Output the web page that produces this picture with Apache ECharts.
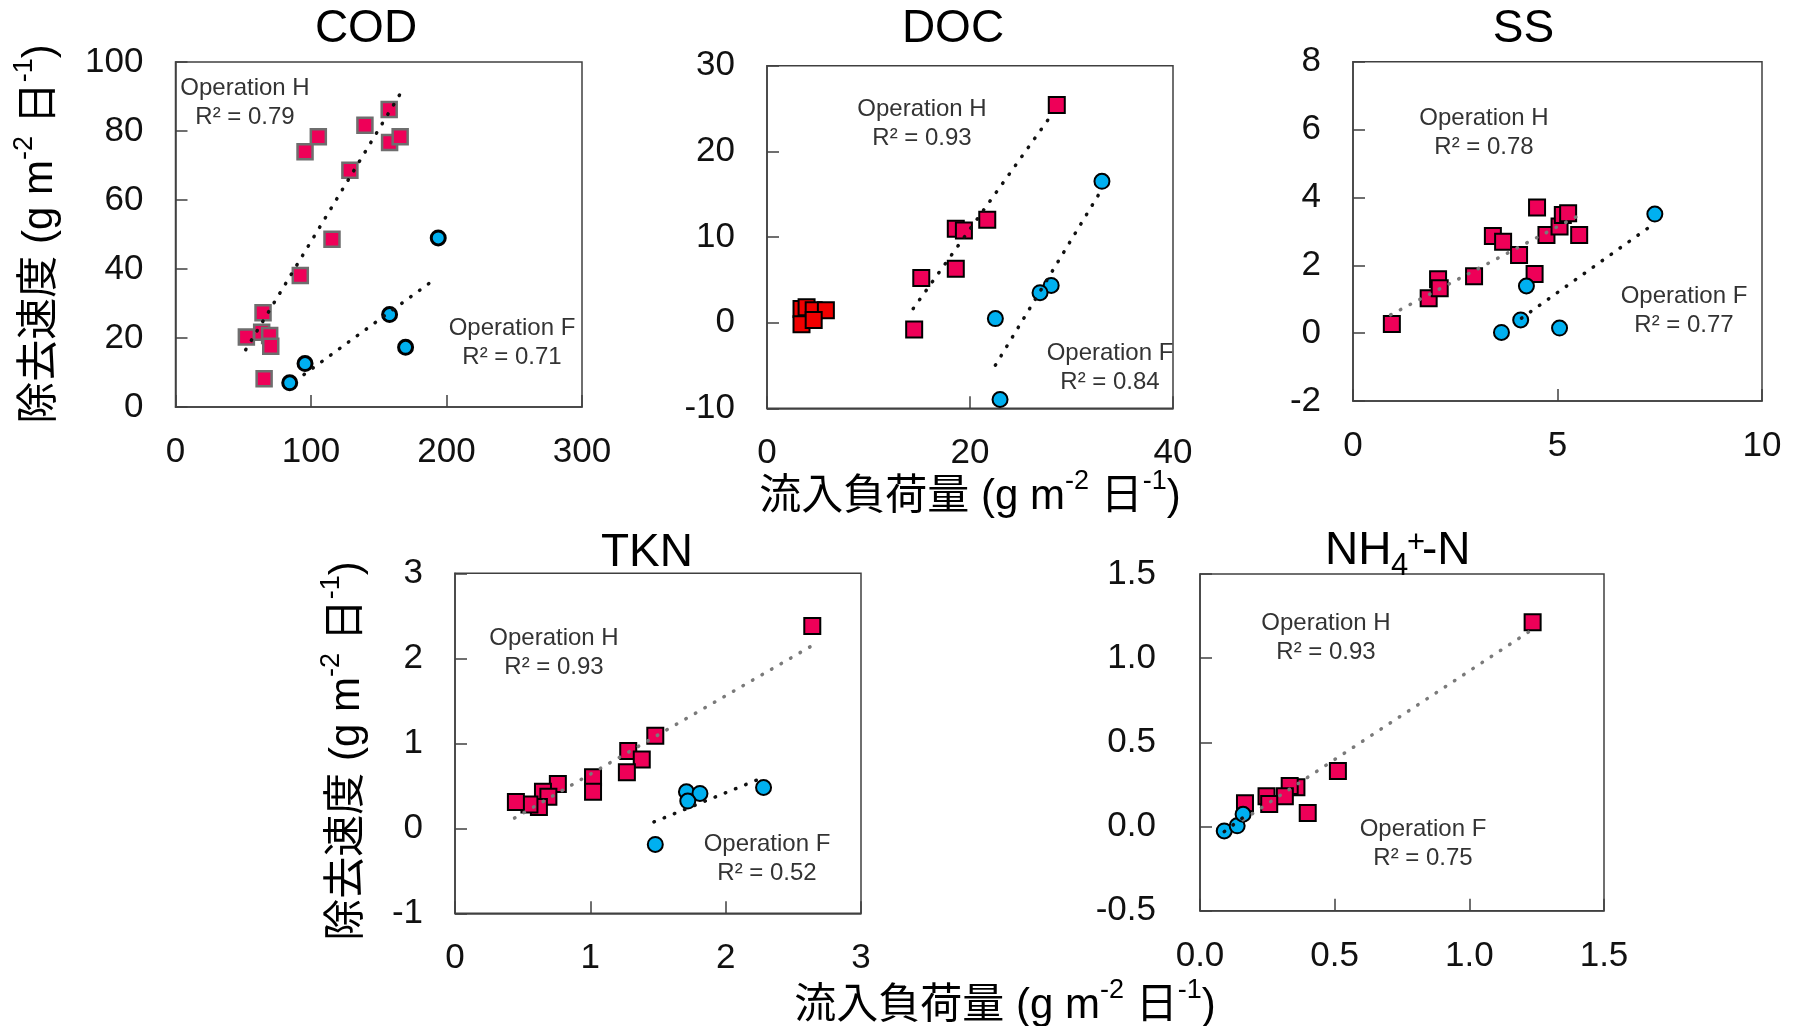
<!DOCTYPE html>
<html>
<head>
<meta charset="utf-8">
<script src="https://cdn.jsdelivr.net/npm/echarts@6/dist/echarts.min.js"></script>
<style>
html,body{margin:0;padding:0;background:#fff;}
#c{width:1796px;height:1026px;}
</style>
</head>
<body>
<div id="c"></div>
<script>
// ---------------- DATA ----------------
// COD
const codH_x = [157.7, 139.8, 105.4, 95.6, 158.0, 165.8, 128.7, 115.5, 92.1, 64.6, 63.6, 69.5, 52.3, 70.3, 65.4];
const codH_y = [86.2, 81.7, 78.3, 74.0, 76.7, 78.3, 68.6, 48.6, 38.1, 27.3, 21.7, 20.7, 20.3, 17.6, 8.2];
const codF_x = [193.9, 158.0, 169.8, 95.6, 84.3];
const codF_y = [49.0, 26.8, 17.3, 12.6, 7.0];
const codTrendH = [[51.8, 16.6], [165.4, 90.5]];
const codTrendF = [[94.8, 9.4], [191.9, 37.2]];
// DOC
const docH_x = [28.55, 21.7, 18.6, 19.4, 18.6, 15.2, 14.5];
const docH_y = [25.4, 12.0, 10.95, 10.76, 6.3, 5.2, -0.8];
const docR_x = [3.4, 3.9, 4.6, 5.8, 3.4, 4.6];
const docR_y = [1.6, 1.8, 1.44, 1.44, -0.2, 0.3];
const docF_x = [33.0, 28.0, 26.9, 22.5, 22.96];
const docF_y = [16.5, 4.35, 3.5, 0.47, -8.97];
const docTrendH = [[14.4, 1.63], [28.0, 24.2]];
const docTrendF = [[22.5, -4.97], [32.8, 15.2]];
// SS
const ssH_x = [0.95, 1.85, 2.08, 2.12, 2.96, 3.42, 3.67, 4.06, 4.44, 4.50, 4.73, 5.05, 5.13, 5.26, 5.53];
const ssH_y = [0.27, 1.03, 1.59, 1.32, 1.68, 2.86, 2.69, 2.30, 1.74, 3.70, 2.89, 3.14, 3.48, 3.53, 2.89];
const ssF_x = [7.38, 4.24, 4.10, 3.63, 5.05];
const ssF_y = [3.51, 1.39, 0.39, 0.02, 0.15];
const ssTrendH = [[0.92, 0.54], [5.46, 3.43]];
const ssTrendF = [[4.12, 0.44], [7.38, 3.24]];
// TKN
const tknH_x = [2.64, 1.48, 1.28, 1.38, 1.27, 1.02, 1.02, 0.76, 0.65, 0.69, 0.62, 0.55, 0.45];
const tknH_y = [2.38, 1.09, 0.91, 0.81, 0.66, 0.60, 0.43, 0.52, 0.43, 0.37, 0.25, 0.28, 0.31];
const tknF_x = [2.28, 1.71, 1.81, 1.72, 1.48];
const tknF_y = [0.48, 0.43, 0.41, 0.32, -0.19];
const tknTrendH = [[0.44, 0.12], [2.64, 2.15]];
const tknTrendF = [[1.47, 0.075], [2.28, 0.60]];
// NH4+-N
const nhH_x = [1.235, 0.512, 0.40, 0.358, 0.333, 0.315, 0.247, 0.257, 0.167];
const nhH_y = [1.213, 0.33, 0.08, 0.233, 0.24, 0.18, 0.18, 0.134, 0.138];
const nhF_x = [0.09, 0.138, 0.16];
const nhF_y = [-0.026, 0.004, 0.073];
const nhTrendH = [[0.16, 0.04], [1.228, 1.164]];
const nhTrendF = [[0.09, -0.03], [0.165, 0.06]];

// axis ranges: [min, max, interval]
const xRanges = [[0, 300, 100], [0, 40, 20], [0, 10, 5], [0, 3, 1], [0, 1.5, 0.5]];
const yRanges = [[0, 100, 20], [-10, 30, 10], [-2, 8, 2], [-1, 3, 1], [-0.5, 1.5, 0.5]];
const labelDecimals = [0, 0, 0, 0, 1];

const titles = ['COD', 'DOC', 'SS', 'TKN'];
const r2H = ['R² = 0.79', 'R² = 0.93', 'R² = 0.78', 'R² = 0.93', 'R² = 0.93'];
const r2F = ['R² = 0.71', 'R² = 0.84', 'R² = 0.77', 'R² = 0.52', 'R² = 0.75'];

// ---------------- LAYOUT ----------------
const grids = [
  {left: 175.5, top: 62, width: 406.5, height: 345},
  {left: 767, top: 65.7, width: 406, height: 342.6},
  {left: 1353, top: 61.7, width: 409, height: 339.3},
  {left: 455, top: 573.3, width: 406, height: 340},
  {left: 1200, top: 574, width: 404, height: 336.7}
];
const yLabelMargin = [32, 32, 32, 32, 44];
const FONT = "'Liberation Sans', Arial, 'Noto Sans CJK JP', sans-serif";
const FRAME = '#404040';
const PINK = '#EE0058';
const BLUE = '#00B0F0';
const RED = '#F00000';

function zip(a, b) { return a.map((v, i) => [v, b[i]]); }

const xAxis = [], yAxis = [];
grids.forEach((g, i) => {
  const fmt = v => labelDecimals[i] ? Number(v).toFixed(labelDecimals[i]) : String(v);
  const common = {
    gridIndex: i, type: 'value',
    axisLine: {show: true, onZero: false, lineStyle: {color: FRAME, width: 1.5}},
    axisTick: {show: true, inside: true, length: 12, lineStyle: {color: FRAME, width: 1.5}},
    splitLine: {show: false},
    axisLabel: {color: '#111', fontSize: 35, fontFamily: FONT, formatter: fmt}
  };
  xAxis.push(Object.assign({}, common, {
    min: xRanges[i][0], max: xRanges[i][1], interval: xRanges[i][2],
    axisLabel: Object.assign({}, common.axisLabel, {margin: 28})
  }));
  yAxis.push(Object.assign({}, common, {
    min: yRanges[i][0], max: yRanges[i][1], interval: yRanges[i][2],
    axisLabel: Object.assign({}, common.axisLabel, {margin: yLabelMargin[i]})
  }));
});

function scatter(i, data, symbol, color, border, bw, size) {
  return {
    type: 'scatter', xAxisIndex: i, yAxisIndex: i, data: data,
    symbol: symbol, symbolSize: size,
    itemStyle: {color: color, borderColor: border, borderWidth: bw, opacity: 1},
    emphasis: {disabled: true}, silent: true, z: 3
  };
}
function trend(i, data, color) {
  return {
    type: 'line', xAxisIndex: i, yAxisIndex: i, data: data,
    showSymbol: false, symbol: 'none', silent: true, z: 5,
    lineStyle: {color: color, width: 3.5, type: [0.5, 10.5], cap: 'round'}
  };
}

const SQ = 16, CI = 15;
const series = [
  scatter(0, zip(codH_x, codH_y), 'rect', PINK, '#6e6e6e', 2.5, 15),
  scatter(0, zip(codF_x, codF_y), 'circle', BLUE, '#000', 3, 14),
  trend(0, codTrendH, '#111'),
  trend(0, codTrendF, '#111'),

  scatter(1, zip(docR_x, docR_y), 'rect', RED, '#000', 2, SQ),
  scatter(1, zip(docH_x, docH_y), 'rect', PINK, '#000', 2, SQ),
  scatter(1, zip(docF_x, docF_y), 'circle', BLUE, '#000', 2, CI),
  trend(1, docTrendH, '#111'),
  trend(1, docTrendF, '#111'),

  scatter(2, zip(ssH_x, ssH_y), 'rect', PINK, '#000', 2, SQ),
  scatter(2, zip(ssF_x, ssF_y), 'circle', BLUE, '#000', 2, CI),
  trend(2, ssTrendH, '#7a7a7a'),
  trend(2, ssTrendF, '#111'),

  scatter(3, zip(tknH_x, tknH_y), 'rect', PINK, '#000', 2, SQ),
  scatter(3, zip(tknF_x, tknF_y), 'circle', BLUE, '#000', 2, CI),
  trend(3, tknTrendH, '#7a7a7a'),
  trend(3, tknTrendF, '#111'),

  scatter(4, zip(nhH_x, nhH_y), 'rect', PINK, '#000', 2, SQ),
  scatter(4, zip(nhF_x, nhF_y), 'circle', BLUE, '#000', 2, CI),
  trend(4, nhTrendH, '#7a7a7a'),
  trend(4, nhTrendF, '#111')
];

// ---------------- TEXT ----------------
function txt(x, y, text, size, extra) {
  return {
    type: 'text', x: x, y: y, z: 100, silent: true,
    style: Object.assign({text: text, fontSize: size, fontFamily: FONT, fill: '#000',
      align: 'center', verticalAlign: 'middle'}, extra || {})
  };
}
const annoPos = [
  [[245, 102.5], [512, 343]],
  [[922, 123.5], [1110, 368]],
  [[1484, 133], [1684, 311]],
  [[554, 653], [767, 859]],
  [[1326, 637.5], [1423, 844]]
];
const graphic = [];
// titles
const titlePos = [[366, 29], [953, 29], [1523.5, 29], [647, 553]];
titles.forEach((t, i) => graphic.push(txt(titlePos[i][0], titlePos[i][1], t, 46)));
// NH4+-N title pieces
graphic.push(txt(1325, 551, 'NH', 46, {align: 'left'}));
graphic.push(txt(1391, 566, '4', 31, {align: 'left'}));
graphic.push(txt(1407, 543, '+', 31, {align: 'left'}));
graphic.push(txt(1422, 551, '-N', 46, {align: 'left'}));
// annotations
annoPos.forEach((p, i) => {
  graphic.push(txt(p[0][0], p[0][1], 'Operation H\n' + r2H[i], 24, {fill: '#333', lineHeight: 29}));
  graphic.push(txt(p[1][0], p[1][1], 'Operation F\n' + r2F[i], 24, {fill: '#333', lineHeight: 29}));
});
// axis names
const rich = {
  n: {fontSize: 42, fontFamily: FONT, fill: '#000', lineHeight: 50, verticalAlign: 'bottom'},
  s: {fontSize: 27, fontFamily: FONT, fill: '#000', lineHeight: 30, verticalAlign: 'top'}
};
const xName = '{n|流入負荷量 (g m}{s|-2}{n| 日}{s|-1}{n|)}';
const yName = '{n|除去速度 (g m}{s|-2}{n| 日}{s|-1}{n|)}';
function nameText(x, y, text, rot) {
  return {
    type: 'text', x: x, y: y, rotation: rot, z: 100, silent: true,
    style: {text: text, rich: rich, align: 'center', verticalAlign: 'middle', fontFamily: FONT, fontSize: 42}
  };
}
graphic.push(nameText(970, 493, xName, 0));
graphic.push(nameText(1005, 1002, xName, 0));
graphic.push(nameText(36, 234, yName, Math.PI / 2));
graphic.push(nameText(343, 751, yName, Math.PI / 2));

const option = {
  animation: false,
  backgroundColor: '#fff',
  grid: grids.map(g => Object.assign({show: true, borderColor: FRAME, borderWidth: 1.5, backgroundColor: 'transparent', containLabel: false}, g)),
  xAxis: xAxis,
  yAxis: yAxis,
  series: series,
  graphic: graphic
};
const chart = echarts.init(document.getElementById('c'), null, {renderer: 'canvas'});
chart.setOption(option);
</script>
</body>
</html>
